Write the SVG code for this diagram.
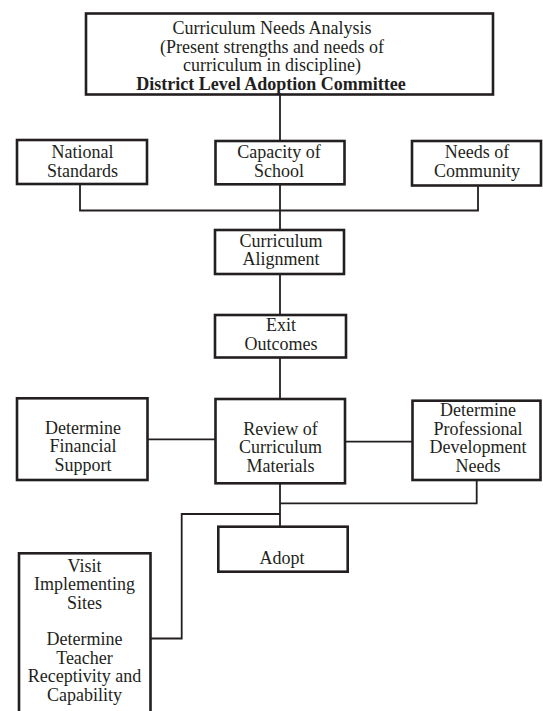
<svg xmlns="http://www.w3.org/2000/svg" width="543" height="711" viewBox="0 0 543 711">
<style>
.box{fill:#fff;stroke:#231f20;stroke-width:2.6}
.con{fill:none;stroke:#231f20;stroke-width:1.8}
text{font-family:"Liberation Serif","Times New Roman",serif;font-size:18px;fill:#231f20;text-anchor:middle}
.b{font-weight:bold}
</style>
<rect width="543" height="711" fill="#fff"/>
<g id="connectors">
<path class="con" d="M280,94.5V230"/>
<path class="con" d="M80,184V210.5H478V185.5"/>
<path class="con" d="M280,274V315"/>
<path class="con" d="M280,357.5V399"/>
<path class="con" d="M147.5,439.3H215.5"/>
<path class="con" d="M345,441.7H412.5"/>
<path class="con" d="M280,483.3V526.7"/>
<path class="con" d="M280,503.3H476.7V480"/>
<path class="con" d="M280,514H181.7V638.5H150.5"/>
</g>
<g id="needs-analysis">
<rect class="box" x="86" y="13.5" width="407" height="81"/>
<text x="272" y="34">Curriculum Needs Analysis</text>
<text x="272" y="52.5">(Present strengths and needs of</text>
<text x="272" y="71">curriculum in discipline)</text>
<text x="271" y="89.5" class="b">District Level Adoption Committee</text>
</g>
<g id="national-standards">
<rect class="box" x="17" y="140" width="130" height="44"/>
<text x="82.5" y="158.3">National</text>
<text x="82.5" y="176.8">Standards</text>
</g>
<g id="capacity-of-school">
<rect class="box" x="215.5" y="141" width="129" height="43.3"/>
<text x="279" y="158.3">Capacity of</text>
<text x="279" y="176.8">School</text>
</g>
<g id="needs-of-community">
<rect class="box" x="412" y="141" width="129" height="44.5"/>
<text x="477" y="158.3">Needs of</text>
<text x="477" y="176.8">Community</text>
</g>
<g id="curriculum-alignment">
<rect class="box" x="215" y="230" width="129" height="44"/>
<text x="281" y="246.6">Curriculum</text>
<text x="281" y="265.1">Alignment</text>
</g>
<g id="exit-outcomes">
<rect class="box" x="215" y="315" width="131" height="42.5"/>
<text x="281" y="331">Exit</text>
<text x="281" y="350">Outcomes</text>
</g>
<g id="financial-support">
<rect class="box" x="17" y="398.3" width="130.5" height="81.7"/>
<text x="83" y="433.6">Determine</text>
<text x="83" y="452.1">Financial</text>
<text x="83" y="470.6">Support</text>
</g>
<g id="review-materials">
<rect class="box" x="215.5" y="399" width="129.5" height="84.3"/>
<text x="280.5" y="434.8">Review of</text>
<text x="280.5" y="453.3">Curriculum</text>
<text x="280.5" y="471.8">Materials</text>
</g>
<g id="professional-development">
<rect class="box" x="412.5" y="400.7" width="128" height="79.3"/>
<text x="478" y="416.3">Determine</text>
<text x="478" y="434.8">Professional</text>
<text x="478" y="453.3">Development</text>
<text x="478" y="471.8">Needs</text>
</g>
<g id="adopt">
<rect class="box" x="218.3" y="526.7" width="129.4" height="45"/>
<text x="282" y="564">Adopt</text>
</g>
<g id="visit-sites">
<rect class="box" x="19" y="553.3" width="131.5" height="170"/>
<text x="84.5" y="571.5">Visit</text>
<text x="84.5" y="590">Implementing</text>
<text x="84.5" y="608.5">Sites</text>
<text x="84.5" y="645">Determine</text>
<text x="84.5" y="663.5">Teacher</text>
<text x="84.5" y="682">Receptivity and</text>
<text x="84.5" y="700.5">Capability</text>
</g>
</svg>
